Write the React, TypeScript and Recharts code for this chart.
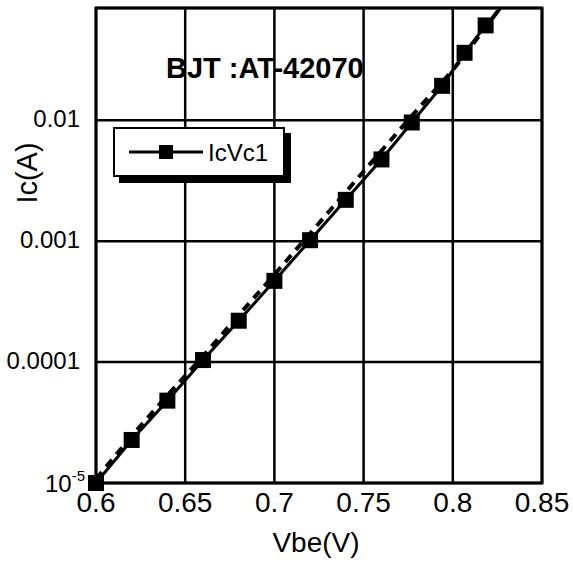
import { LineChart, Line, XAxis, YAxis, CartesianGrid, ReferenceArea, Legend, Label } from 'recharts'

// measured points (squares)
const vbe = [0.6, 0.62, 0.64, 0.66, 0.68, 0.7, 0.72, 0.74, 0.76, 0.777, 0.794, 0.8066, 0.8184]
const icVc1 = [1.0e-5, 2.27e-5, 4.8e-5, 1.04e-4, 2.2e-4, 4.7e-4, 1.02e-3, 2.2e-3, 4.75e-3, 9.6e-3, 1.93e-2, 3.62e-2, 6.1e-2]
// the solid line runs on past the last square up to the top edge
const tailVbe = [0.827]
const tailIc = [0.085]

// dashed model curve
const vbeModel = [0.6, 0.62, 0.64, 0.66, 0.68, 0.7, 0.72, 0.74, 0.76, 0.78, 0.8, 0.82, 0.8265]
const icModel = [1.08e-5, 2.45e-5, 5.3e-5, 1.12e-4, 2.45e-4, 5.3e-4, 1.16e-3, 2.55e-3, 5.6e-3, 1.22e-2, 2.6e-2, 6.3e-2, 0.085]

const xTicks = [0.6, 0.65, 0.7, 0.75, 0.8, 0.85]
const xTickLabels = ['0.6', '0.65', '0.7', '0.75', '0.8', '0.85']
const yTicks = [1e-5, 1e-4, 1e-3, 1e-2]
const yTickLabels = ['10', '0.0001', '0.001', '0.01']

const FONT = '"Liberation Sans", Arial, sans-serif'

const measured = [
  ...vbe.map((x, i) => ({ x, y: icVc1[i], mark: true })),
  ...tailVbe.map((x, i) => ({ x, y: tailIc[i], mark: false })),
]
const model = vbeModel.map((x, i) => ({ x, y: icModel[i] }))

const SquareDot = (props: any) => {
  const { cx, cy, payload, index } = props
  if (!payload || !payload.mark || cx == null || cy == null) return <g key={index} />
  return <rect key={index} x={cx - 8} y={cy - 8} width={16} height={16} fill="#000" />
}

const XTick = ({ x, y, payload }: any) => {
  const i = xTicks.indexOf(payload.value)
  return (
    <text x={x} y={y + 29} textAnchor="middle" fontSize={28} fontFamily={FONT} fill="#000">
      {i >= 0 ? xTickLabels[i] : payload.value}
    </text>
  )
}

const YTick = ({ x, y, payload }: any) => {
  const i = yTicks.indexOf(payload.value)
  if (i === 0) {
    return (
      <text x={x - 11} y={y + 9} textAnchor="end" fontSize={24} fontFamily={FONT} fill="#000">
        <tspan>{yTickLabels[0]}</tspan>
        <tspan dy={-11} fontSize={15}>-5</tspan>
      </text>
    )
  }
  return (
    <text x={x - 16} y={y + 7} textAnchor="end" fontSize={24} fontFamily={FONT} fill="#000">
      {yTickLabels[i]}
    </text>
  )
}

const LegendBox = () => (
  <div
    style={{
      position: 'absolute',
      left: 113,
      top: 127,
      width: 168,
      height: 46,
      border: '2px solid #000',
      boxShadow: '6px 6px 0 #000',
      background: '#fff',
      fontFamily: FONT,
    }}
  >
    <svg width={168} height={46} style={{ position: 'absolute', left: 0, top: 0 }}>
      <line x1={14} y1={23} x2={88} y2={23} stroke="#000" strokeWidth={3} />
      <rect x={44} y={16} width={14} height={14} fill="#000" />
      <text x={93} y={32} fontSize={24} fontFamily={FONT} fill="#000">
        IcVc1
      </text>
    </svg>
  </div>
)

export default function App() {
  return (
    <div style={{ position: 'absolute', left: 0, top: 0, width: 573, height: 562, background: '#fff' }}>
      <LineChart width={573} height={562} margin={{ top: 8, right: 31, left: 0, bottom: 0 }}>
        <CartesianGrid stroke="#000" strokeWidth={2.5} />
        <XAxis
          type="number"
          dataKey="x"
          domain={[0.6, 0.85]}
          ticks={xTicks}
          axisLine={false}
          tickLine={false}
          tickSize={0}
          tickMargin={0}
          height={79}
          tick={<XTick />}
          interval={0}
        >
          <Label
            content={() => (
              <text x={316} y={552} textAnchor="middle" fontSize={28} fontFamily={FONT} fill="#000">
                Vbe(V)
              </text>
            )}
          />
        </XAxis>
        <YAxis
          type="number"
          dataKey="y"
          scale="log"
          domain={[1e-5, 0.085]}
          ticks={yTicks}
          axisLine={false}
          tickLine={false}
          tickSize={0}
          tickMargin={0}
          width={96}
          tick={<YTick />}
          interval={0}
        >
          <Label
            content={() => (
              <text
                x={37}
                y={173}
                textAnchor="middle"
                fontSize={29}
                fontFamily={FONT}
                fill="#000"
                transform="rotate(-90 37 173)"
              >
                Ic(A)
              </text>
            )}
          />
        </YAxis>
        <ReferenceArea
          x1={0.6}
          x2={0.85}
          y1={1e-5}
          y2={0.085}
          fill="none"
          stroke="#000"
          strokeWidth={3}
          ifOverflow="visible"
        />
        <Line
          data={model}
          dataKey="y"
          type="linear"
          stroke="#000"
          strokeWidth={4}
          strokeDasharray="9 7"
          dot={false}
          isAnimationActive={false}
          legendType="none"
        />
        <Line
          data={measured}
          dataKey="y"
          name="IcVc1"
          type="linear"
          stroke="#000"
          strokeWidth={3}
          dot={<SquareDot />}
          isAnimationActive={false}
        />
        <Legend content={() => null} />
      </LineChart>
      <LegendBox />
      <svg width={573} height={562} style={{ position: 'absolute', left: 0, top: 0, pointerEvents: 'none' }}>
        <text x={166} y={78} fontSize={29} fontWeight="bold" fontFamily={FONT} fill="#000">
          BJT :AT-42070
        </text>
      </svg>
    </div>
  )
}
